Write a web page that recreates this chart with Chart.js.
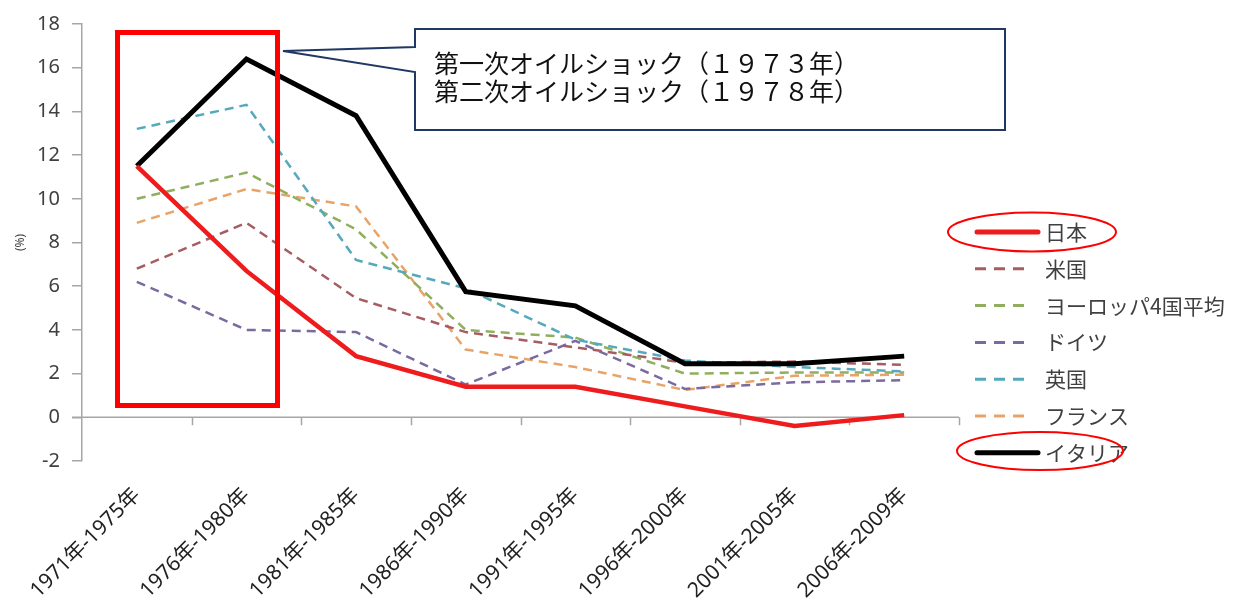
<!DOCTYPE html>
<html>
<head>
<meta charset="utf-8">
<script src="https://cdn.jsdelivr.net/npm/chart.js@4.4.1/dist/chart.umd.min.js"></script>
<style>
html,body{margin:0;padding:0;background:#fff;}
#wrap{width:1233px;height:603px;}
</style>
</head>
<body>
<div id="wrap"><canvas id="cpiChart" width="1233" height="603"></canvas></div>
<script>
// 期間
const periods = ["1971年-1975年","1976年-1980年","1981年-1985年","1986年-1990年",
                 "1991年-1995年","1996年-2000年","2001年-2005年","2006年-2009年"];

// 消費者物価上昇率 (%)
const japan   = [11.5, 6.7, 2.8, 1.4, 1.4, 0.5, -0.4, 0.1];
const usa     = [6.8, 8.9, 5.45, 3.9, 3.2, 2.5, 2.55, 2.4];
const europe4 = [10.0, 11.2, 8.6, 4.0, 3.65, 2.0, 2.05, 2.05];
const germany = [6.2, 4.0, 3.9, 1.5, 3.5, 1.3, 1.6, 1.7];
const uk      = [13.2, 14.3, 7.2, 5.9, 3.55, 2.6, 2.3, 2.1];
const france  = [8.9, 10.45, 9.65, 3.1, 2.3, 1.25, 1.9, 1.95];
const italy   = [11.5, 16.4, 13.8, 5.75, 5.1, 2.45, 2.45, 2.8];

const yMin = -2, yMax = 18, yStep = 2;

const calloutLines = ["第一次オイルショック（１９７３年）", "第二次オイルショック（１９７８年）"];

const SANS = "'Noto Sans', 'Noto Sans CJK JP', sans-serif";
const JP = "'Noto Sans CJK JP', 'Noto Sans', sans-serif";

function dashed(label, data, color, order){
  return {label: label, data: data, borderColor: color, borderWidth: 2.5,
          borderDash: [9, 6], pointRadius: 0, tension: 0, fill: false, order: order};
}

const datasets = [
  {label: "日本", data: japan, borderColor: "#ee1c1c", borderWidth: 4.5,
   pointRadius: 0, tension: 0, fill: false, order: 0},
  dashed("米国", usa, "#a65d62", 3),
  dashed("ヨーロッパ4国平均", europe4, "#8fae5e", 4),
  dashed("ドイツ", germany, "#7a6aa0", 5),
  dashed("英国", uk, "#56a9bd", 2),
  dashed("フランス", france, "#e8a468", 6),
  {label: "イタリア", data: italy, borderColor: "#000000", borderWidth: 5,
   pointRadius: 0, tension: 0, fill: false, order: 1}
];

// zero line with tick marks, legend, callout and highlight marks
const decorations = {
  id: "decorations",
  beforeDatasetsDraw(chart){
    const {ctx, chartArea, scales} = chart;
    const x = scales.x, y = scales.y;
    const y0 = y.getPixelForValue(0);
    const half = (x.getPixelForValue(1) - x.getPixelForValue(0)) / 2;
    ctx.save();
    ctx.strokeStyle = "#a6a6a6";
    ctx.lineWidth = 1.5;
    ctx.beginPath();
    ctx.moveTo(chartArea.left - 10, y0);
    ctx.lineTo(chartArea.right, y0);
    for (let i = 0; i < periods.length; i++){
      const bx = Math.round(x.getPixelForValue(i) + half) + 0.5;
      ctx.moveTo(bx, y0);
      ctx.lineTo(bx, y0 + 8);
    }
    ctx.stroke();
    ctx.restore();
  },
  afterDraw(chart){
    const ctx = chart.ctx;
    ctx.save();

    // red frame around 1970s
    ctx.strokeStyle = "#ff0000";
    ctx.lineWidth = 5;
    ctx.strokeRect(117.5, 32.5, 160, 373);

    // callout
    ctx.strokeStyle = "#1f3864";
    ctx.lineWidth = 2;
    ctx.fillStyle = "#ffffff";
    ctx.beginPath();
    ctx.moveTo(415, 47);
    ctx.lineTo(415, 29);
    ctx.lineTo(1005, 29);
    ctx.lineTo(1005, 130);
    ctx.lineTo(415, 130);
    ctx.lineTo(415, 72);
    ctx.lineTo(283, 51);
    ctx.closePath();
    ctx.fill();
    ctx.stroke();
    ctx.fillStyle = "#111";
    ctx.font = "25px " + JP;
    ctx.textBaseline = "middle";
    ctx.textAlign = "left";
    calloutLines.forEach((t, i) => ctx.fillText(t, 434, 63 + i * 28));

    // legend
    ctx.font = "21px " + JP;
    ctx.fillStyle = "#404040";
    chart.data.datasets.forEach((ds, i) => {
      const ly = 232 + i * 36.8;
      ctx.strokeStyle = ds.borderColor;
      ctx.beginPath();
      if (ds.borderDash){
        ctx.lineWidth = 3;
        ctx.setLineDash([11, 8]);
        ctx.moveTo(975, ly);
        ctx.lineTo(1027, ly);
      } else {
        ctx.lineWidth = 5;
        ctx.setLineDash([]);
        ctx.lineCap = "round";
        ctx.moveTo(977, ly);
        ctx.lineTo(1038, ly);
      }
      ctx.stroke();
      ctx.setLineDash([]);
      ctx.lineCap = "butt";
      ctx.fillText(ds.label, 1045, ly);
    });

    // red ellipses around 日本 and イタリア
    ctx.strokeStyle = "#ff0000";
    ctx.lineWidth = 2;
    ctx.beginPath();
    ctx.ellipse(1032, 232, 84, 19.5, 0, 0, Math.PI * 2);
    ctx.stroke();
    ctx.beginPath();
    ctx.ellipse(1040, 451, 83, 19, 0, 0, Math.PI * 2);
    ctx.stroke();

    ctx.restore();
  }
};

new Chart(document.getElementById("cpiChart"), {
  type: "line",
  data: {labels: periods, datasets: datasets},
  options: {
    responsive: false,
    animation: false,
    devicePixelRatio: 1,
    layout: {padding: {top: 22, right: 274, bottom: 0, left: 0}},
    plugins: {legend: {display: false}, tooltip: {enabled: false}, title: {display: false}},
    scales: {
      x: {
        offset: true,
        grid: {display: false, drawTicks: false},
        border: {display: false},
        ticks: {
          minRotation: 45, maxRotation: 45, padding: 22,
          color: "#222", font: {family: SANS, size: 21}
        },
        afterFit(scale){ scale.height = 142; }
      },
      y: {
        min: yMin, max: yMax,
        grid: {drawOnChartArea: false, drawTicks: true, tickLength: 10, color: "#a6a6a6", lineWidth: 1.5},
        border: {display: true, color: "#a6a6a6", width: 1.5},
        ticks: {stepSize: yStep, padding: 12, color: "#404040", font: {family: SANS, size: 20}},
        title: {display: true, text: "(%)", color: "#404040", font: {family: SANS, size: 12}, padding: {top: 13, bottom: 0}},
        afterFit(scale){ scale.width = 82; }
      }
    }
  },
  plugins: [decorations]
});
</script>
</body>
</html>
